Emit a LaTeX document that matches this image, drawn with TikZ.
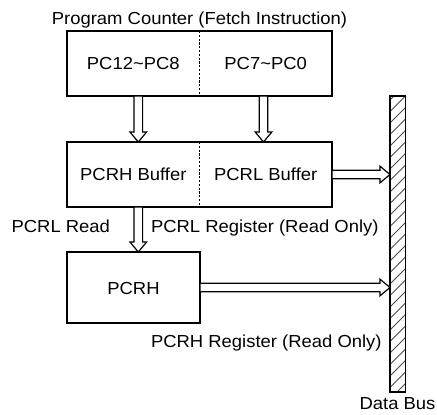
\documentclass[tikz,border=0pt]{standalone}
\usepackage{fontspec}
\setmainfont[FakeStretch=1.06]{Liberation Sans}
\usetikzlibrary{calc}
\def\aw{4.3pt}
\def\ah{8.3pt}
\def\al{10pt}
\begin{document}
\begin{tikzpicture}[x=1pt,y=-1pt,
  every node/.style={font=\fontsize{17.4}{20}\selectfont, inner sep=0pt, outer sep=0pt},
  box/.style={draw, line width=1.5pt, rectangle},
  divider/.style={line width=1.1pt, dash pattern=on 2.2pt off 1.6pt},
  harrow/.style={line width=1.2pt, fill=white, to path={
    ($(\tikztostart)!\aw!90:(\tikztotarget)$) --
    ($($(\tikztotarget)!\al!(\tikztostart)$)!\aw!-90:(\tikztostart)$) --
    ($($(\tikztotarget)!\al!(\tikztostart)$)!\ah!-90:(\tikztostart)$) --
    (\tikztotarget) --
    ($($(\tikztotarget)!\al!(\tikztostart)$)!\ah!90:(\tikztostart)$) --
    ($($(\tikztotarget)!\al!(\tikztostart)$)!\aw!90:(\tikztostart)$) --
    ($(\tikztostart)!\aw!-90:(\tikztotarget)$) -- cycle}},
  hatch/.style={line width=0.8pt, black!70}]
\useasboundingbox (0,0) rectangle (437,415);

% boxes
\node[box, minimum width=265, minimum height=65] (pc) at (199.5,63.5) {};
\node[box, minimum width=265, minimum height=65] (buf) at (199.5,174.5) {};
\node[box, minimum width=133, minimum height=71] (pcrh) at (133.5,287.5) {};

\draw[divider] (pc.north) -- (pc.south);
\draw[divider] (buf.north) -- (buf.south);

% texts
\node[anchor=base] (title) at (199.5,24) {Program Counter (Fetch Instruction)};
\node[anchor=base] (pchi) at (133.3,69.5) {PC12\textasciitilde PC8};
\node[anchor=base] (pclo) at (265.7,69.5) {PC7\textasciitilde PC0};
\node[anchor=base] (bufh) at (133.3,180.5) {PCRH Buffer};
\node[anchor=base] (bufl) at (265.7,180.5) {PCRL Buffer};
\node[anchor=base] (pcrhtxt) at (133.5,294) {PCRH};
\node[anchor=base east] (rdlbl) at (110,232.5) {PCRL Read};
\node[anchor=base west] (pcrllbl) at (151,232.5) {PCRL Register (Read Only)};
\node[anchor=base west] (pcrhlbl) at (151,347) {PCRH Register (Read Only)};
\node[anchor=base] (buslbl) at (397.5,409.5) {Data Bus};

% data bus
\node[minimum width=15.5, minimum height=296] (bus) at (397.75,244) {};
\begin{scope}
  \clip (bus.south west) rectangle (bus.north east);
  \foreach \y in {100,111.5,...,420} \draw[hatch] (390,\y) -- ++(15.5,-15.5);
\end{scope}
\draw[line width=1.5pt] (bus.south west) rectangle (bus.north east);

% arrows
\coordinate (ax1) at (138.3,0);
\coordinate (ax2) at (263.5,0);
\draw[harrow] (pc.south -| ax1) to (buf.north -| ax1);
\draw[harrow] (pc.south -| ax2) to (buf.north -| ax2);
\draw[harrow] (buf.south -| ax1) to (pcrh.north -| ax1);
\draw[harrow] (buf.east) to (bus.west |- buf.east);
\draw[harrow] (pcrh.east) to (bus.west |- pcrh.east);
\end{tikzpicture}
\end{document}
